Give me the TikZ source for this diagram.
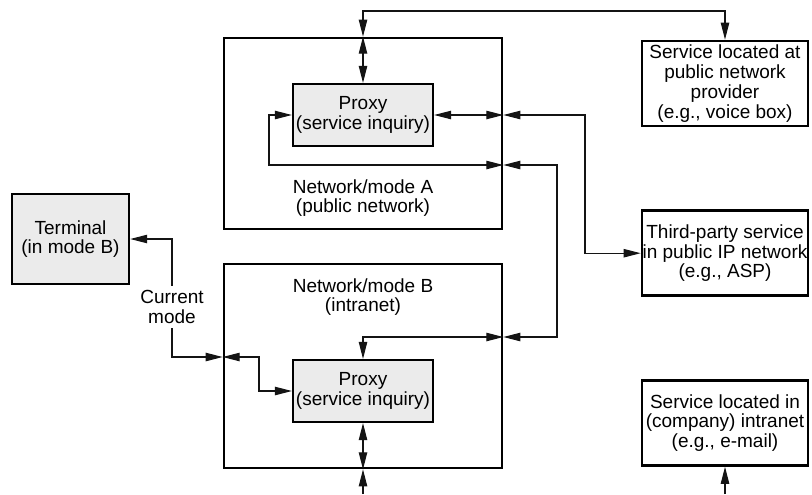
\documentclass[tikz,border=0pt]{standalone}
\usepackage{fontspec}
\setmainfont{Liberation Sans}
\usepackage{xcolor}
\usepackage{tikz}
\usetikzlibrary{arrows.meta,positioning}
\definecolor{ProxyGray}{HTML}{EBEBEB}
\definecolor{WireBlack}{HTML}{141414}

\begin{document}
\begin{tikzpicture}[
  x=0.5pt,y=-0.5pt,
  node distance=41pt,
  every node/.style={font=\fontsize{9.5}{9.9}\selectfont,align=center,inner sep=0pt},
  netbox/.style={draw=black,line width=1.35pt,minimum width=139pt},
  proxybox/.style={draw=black,line width=1.1pt,fill=ProxyGray,minimum width=70pt,minimum height=31pt},
  svcbox/.style={draw=black,line width=1.35pt,fill=white,minimum width=83pt,minimum height=42.5pt},
  link/.style={line width=0.55pt,color=WireBlack,-{Triangle[length=8.5pt,width=4.2pt]}},
  dlink/.style={line width=0.55pt,color=WireBlack,{Triangle[length=8.5pt,width=4.2pt]}-{Triangle[length=8.5pt,width=4.2pt]}}
]
  \useasboundingbox (0,0) rectangle (812,494);
  \node[netbox,minimum height=95.5pt] (netA) at (363,133.5) {};
  \node[proxybox] (proxyA) at (363,115) {Proxy\\(service inquiry)};
  \node (labA) at (363,198) {Network/mode A\\(public network)};
  \node[netbox,minimum height=102pt] (netB) at (363,366) {};
  \node[proxybox] (proxyB) at (363,391) {Proxy\\(service inquiry)};
  \node (labB) at (363,297) {Network/mode B\\(intranet)};
  \node[proxybox,line width=1.2pt,minimum width=58.5pt,minimum height=45pt] (terminal) at (70.5,239) {Terminal\\(in mode B)};
  \node[inner ysep=2pt] (curmode) at (172,307) {Current\\mode};
  \node[svcbox] (svcpub) at (725,83.5) {Service located at\\public network\\provider\\(e.g., voice box)};
  \node[svcbox,below=of svcpub] (third) {Third-party service\\in public IP network\\(e.g., ASP)};
  \node[svcbox,below=of third] (svcintra) {Service located in\\(company) intranet\\(e.g., e-mail)};

  \coordinate (topbus) at (0,11);
  \coordinate (busT) at (585,0);
  \coordinate (loopA) at (269,165);
  \coordinate (busB) at (557,0);
  \coordinate (innerB) at (363,337);
  \coordinate (loopB) at (259,357);
  \coordinate (feedB) at (363,494);
  \coordinate (feedS) at (725,494);

  \draw[dlink] (netA.north) |- (topbus -| svcpub.north) -- (svcpub.north);
  \draw[dlink] (proxyA.north) -- (netA.north);
  \draw[dlink] (proxyA.east) -- (proxyA.east -| netA.east);
  \draw[dlink] (proxyA.east -| netA.east) -- (proxyA.east -| busT) |- (third.west);
  \draw[dlink] (proxyA.west) -| (loopA) -- (loopA -| netA.east);
  \draw[dlink] (loopA -| netA.east) -- (loopA -| busB) |- (innerB -| netB.east);
  \draw[dlink] (innerB -| netB.east) -| (proxyB.north);
  \draw[dlink] (loopB -| netB.west) -- (loopB) |- (proxyB.west);
  \draw[link] (curmode.south) |- (loopB -| netB.west);
  \draw[link] (curmode.north) |- (terminal.east);
  \draw[dlink] (proxyB.south) -- (netB.south);
  \draw[link] (feedB) -- (netB.south);
  \draw[link] (feedS) -- (svcintra.south);
\end{tikzpicture}
\end{document}
